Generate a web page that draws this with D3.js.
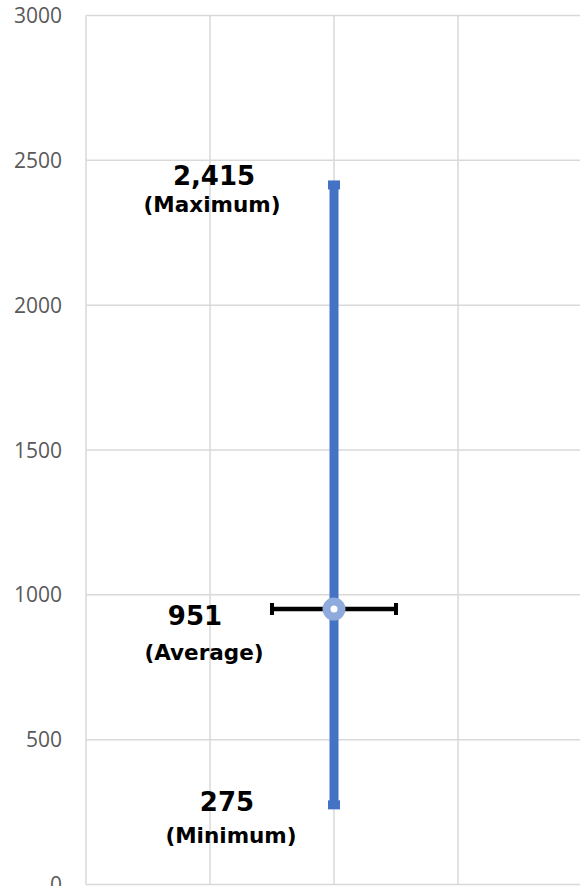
<!DOCTYPE html>
<html>
<head>
<meta charset="utf-8">
<script src="https://cdn.jsdelivr.net/npm/d3@7"></script>
<style>
  body { margin: 0; background: #fff; overflow: hidden; }
</style>
</head>
<body>
<script>
// chart values
const stats = ["Maximum", "Average", "Minimum"];
const values = [2415, 951, 275];
const valueText = ["2,415", "951", "275"];
const yTicks = [0, 500, 1000, 1500, 2000, 2500, 3000];
const xTicks = [0, 1, 2, 3, 4];
const xPos = 2;          // the single x value of the series
const avgErrX = 0.5;     // horizontal error bar on the average

const width = 580, height = 886;

const svg = d3.select("body").append("svg")
    .attr("width", width)
    .attr("height", height);

const x = d3.scaleLinear().domain([0, 4]).range([86, 582]);
const y = d3.scaleLinear().domain([0, 3000]).range([884.5, 15.5]);

// gridlines
svg.append("g")
    .selectAll("line.h")
    .data(yTicks)
    .join("line")
    .attr("x1", x(0)).attr("x2", x(4))
    .attr("y1", d => y(d)).attr("y2", d => y(d))
    .attr("stroke", "#d9d9d9")
    .attr("stroke-width", 1.5);

svg.append("g")
    .selectAll("line.v")
    .data(xTicks)
    .join("line")
    .attr("x1", d => x(d)).attr("x2", d => x(d))
    .attr("y1", y(3000)).attr("y2", y(0))
    .attr("stroke", "#d9d9d9")
    .attr("stroke-width", 1.5);

// y axis labels
svg.append("g")
    .selectAll("text")
    .data(yTicks)
    .join("text")
    .attr("x", 62)
    .attr("y", d => y(d))
    .attr("dy", "0.36em")
    .attr("text-anchor", "end")
    .attr("font-family", "'Open Sans', sans-serif")
    .attr("font-size", 21)
    .attr("fill", "#595959")
    .text(d => d);

// min-max range line
const vmax = d3.max(values), vmin = d3.min(values), vavg = values[1];
svg.append("line")
    .attr("x1", x(xPos)).attr("x2", x(xPos))
    .attr("y1", y(vmax)).attr("y2", y(vmin))
    .attr("stroke", "#4472c4")
    .attr("stroke-width", 9);

svg.append("g")
    .selectAll("rect")
    .data([vmax, vmin])
    .join("rect")
    .attr("x", x(xPos) - 6)
    .attr("y", d => y(d) - 4.5)
    .attr("width", 12)
    .attr("height", 9)
    .attr("fill", "#4472c4");

// horizontal error bar through the average
const eb = svg.append("g").attr("stroke", "#000");
eb.append("line")
    .attr("x1", x(xPos - avgErrX)).attr("x2", x(xPos + avgErrX))
    .attr("y1", y(vavg)).attr("y2", y(vavg))
    .attr("stroke-width", 4.5);
eb.selectAll("line.cap")
    .data([xPos - avgErrX, xPos + avgErrX])
    .join("line")
    .attr("class", "cap")
    .attr("x1", d => x(d)).attr("x2", d => x(d))
    .attr("y1", y(vavg) - 6).attr("y2", y(vavg) + 6)
    .attr("stroke-width", 4);

// average marker
svg.append("circle")
    .attr("cx", x(xPos))
    .attr("cy", y(vavg))
    .attr("r", 7.5)
    .attr("fill", "#fff")
    .attr("stroke", "#8faadc")
    .attr("stroke-width", 8);

// data labels, placed left of the line
const labelDx = [-120, -139, -107];
const labelDy = [0, 16, 6];
const lab = svg.append("g")
    .attr("font-family", "'DejaVu Sans', sans-serif")
    .attr("font-weight", "bold")
    .attr("fill", "#000")
    .attr("text-anchor", "middle");

lab.selectAll("text.val")
    .data(values)
    .join("text")
    .attr("class", "val")
    .attr("x", (d, i) => x(xPos) + labelDx[i])
    .attr("y", (d, i) => y(d) + labelDy[i])
    .attr("font-size", 26)
    .text((d, i) => valueText[i]);

lab.selectAll("text.name")
    .data(values)
    .join("text")
    .attr("class", "name")
    .attr("x", (d, i) => x(xPos) + labelDx[i] + [-2, 9, 4][i])
    .attr("y", (d, i) => y(d) + labelDy[i] + [27, 35, 32][i])
    .attr("font-size", 21.5)
    .text((d, i) => "(" + stats[i] + ")");
</script>
</body>
</html>
